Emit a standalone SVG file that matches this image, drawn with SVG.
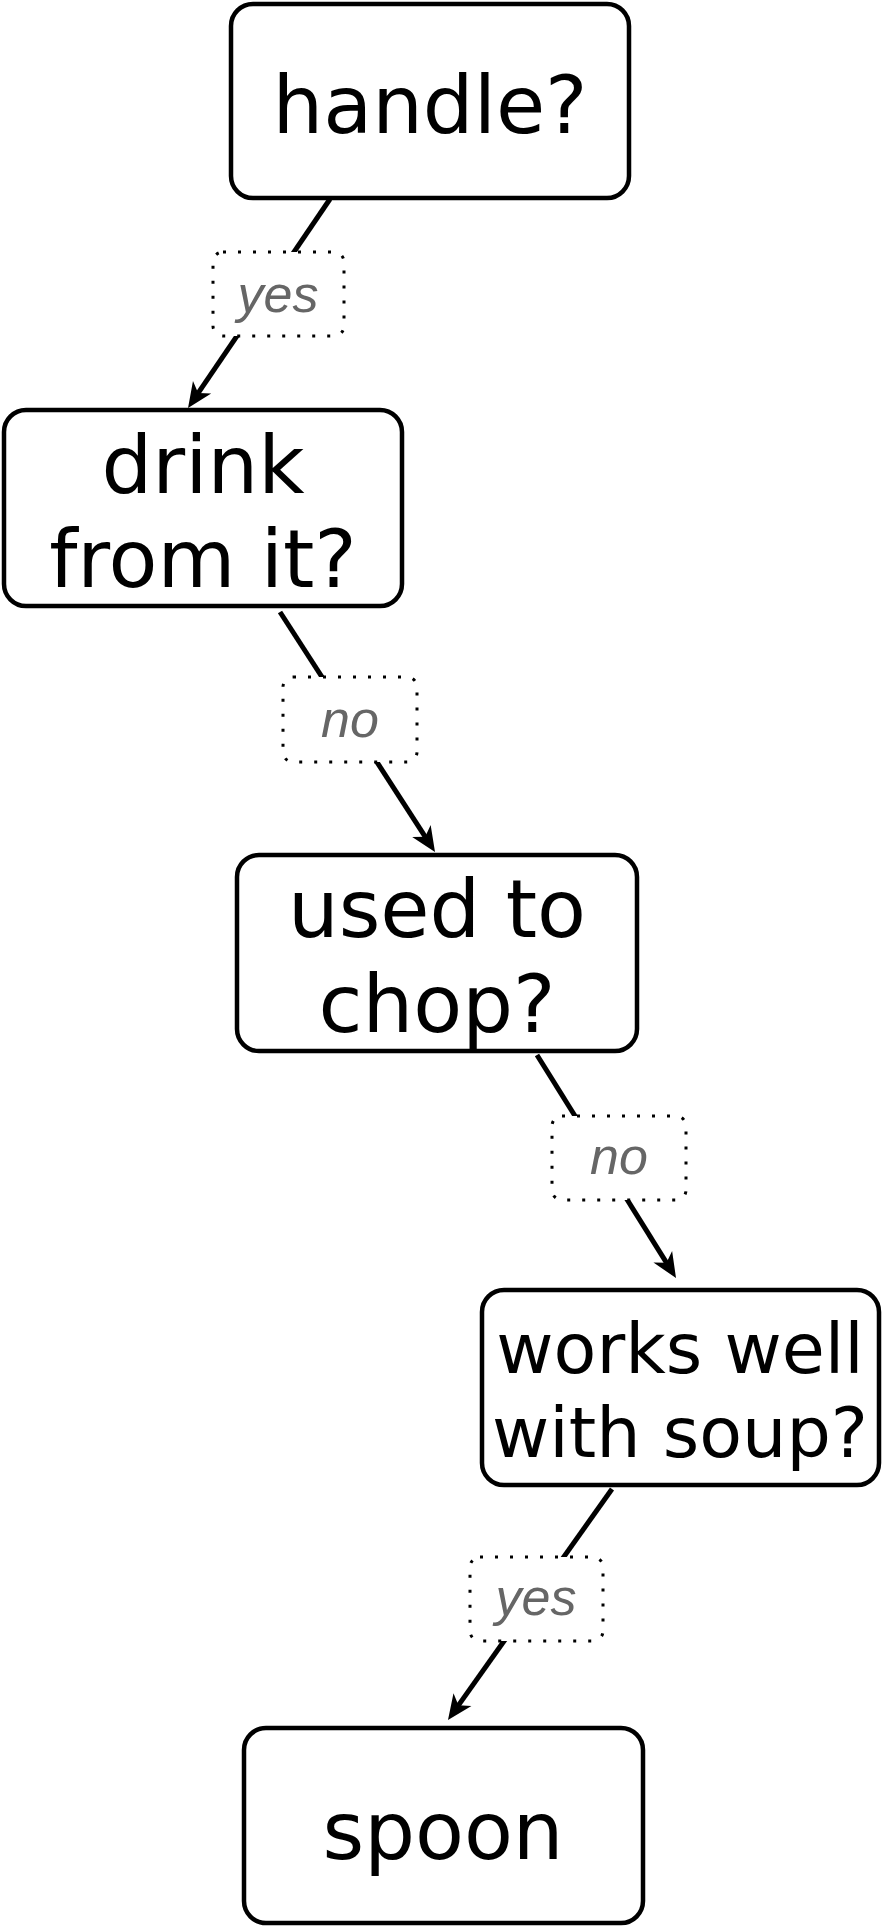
<svg xmlns="http://www.w3.org/2000/svg" width="883" height="1927" viewBox="0 0 883 1927">
<style>
.node{fill:#fff;stroke:#000;stroke-width:4.5}
.nt{font-family:"DejaVu Sans",sans-serif;font-size:80px;fill:#000;text-anchor:middle}
.nt70{font-size:70px}
.edge{fill:none;stroke:#000;stroke-width:5}
.lbl{fill:#fff;stroke:#000;stroke-width:3;stroke-dasharray:3 12}
.lt{font-family:"Liberation Sans",Arial,sans-serif;font-style:italic;font-size:52px;fill:#666;text-anchor:middle}
</style>
<defs>
<marker id="arr" markerUnits="userSpaceOnUse" viewBox="-14 -13 30 26" refX="0" refY="0" markerWidth="30" markerHeight="26" orient="auto">
<path d="M14,0 L-11,-11 L-4,0 L-11,11 Z" fill="#000"/>
</marker>
</defs>
<g id="connectors">
<path class="edge" d="M330,199 L195.9,396.4" marker-end="url(#arr)"/>
<path class="edge" d="M280,612 L427.4,840.2" marker-end="url(#arr)"/>
<path class="edge" d="M537,1055 L668.6,1266.1" marker-end="url(#arr)"/>
<path class="edge" d="M612,1489 L456.1,1708.6" marker-end="url(#arr)"/>
</g>
<g id="n-handle">
<rect class="node" x="231" y="4" width="398" height="194" rx="22"/>
<text class="nt" x="430" y="133">handle?</text>
</g>
<g id="n-drink">
<rect class="node" x="4" y="410" width="398" height="196" rx="22"/>
<text class="nt" x="203" y="493">drink</text>
<text class="nt" x="203" y="587">from it?</text>
</g>
<g id="n-chop">
<rect class="node" x="237" y="855" width="400" height="196" rx="22"/>
<text class="nt" x="437" y="937">used to</text>
<text class="nt" x="437" y="1032">chop?</text>
</g>
<g id="n-soup">
<rect class="node" x="482" y="1290" width="397" height="195" rx="22"/>
<text class="nt nt70" x="680" y="1373">works well</text>
<text class="nt nt70" x="680" y="1457">with soup?</text>
</g>
<g id="n-spoon">
<rect class="node" x="244" y="1728" width="399" height="195" rx="22"/>
<text class="nt" x="443" y="1859">spoon</text>
</g>
<g id="edge-labels">
<g id="l-yes1">
<rect class="lbl" x="213" y="252" width="131" height="84" rx="10"/>
<text class="lt" x="278" y="312">yes</text>
</g>
<g id="l-no1">
<rect class="lbl" x="283" y="677" width="134" height="85" rx="10"/>
<text class="lt" x="350" y="737">no</text>
</g>
<g id="l-no2">
<rect class="lbl" x="552" y="1116" width="134" height="84" rx="10"/>
<text class="lt" x="619" y="1174">no</text>
</g>
<g id="l-yes2">
<rect class="lbl" x="470" y="1557" width="133" height="84" rx="10"/>
<text class="lt" x="536" y="1615">yes</text>
</g>
</g>
</svg>
